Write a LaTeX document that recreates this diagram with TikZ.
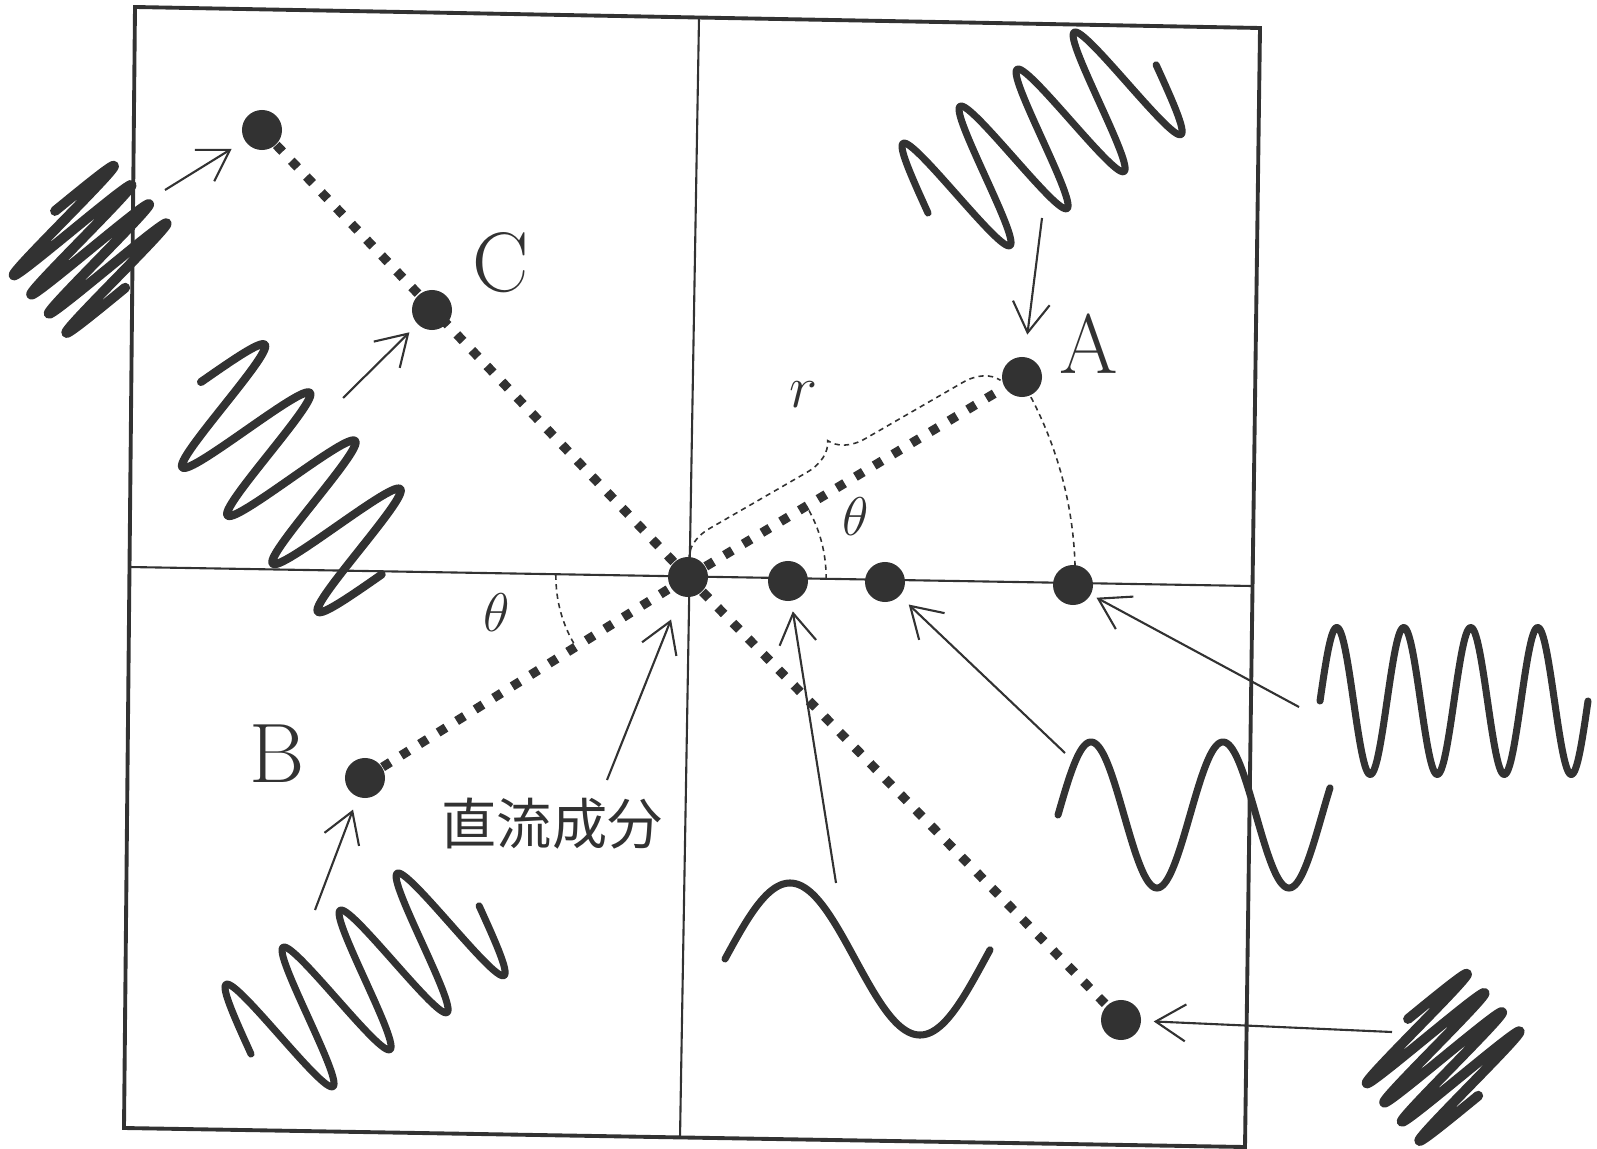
\documentclass[tikz,border=0pt]{standalone}
\usepackage{fix-cm}
\usepackage{fontspec}
\newfontfamily\cjkfont{Noto Sans CJK JP}
\usetikzlibrary{arrows.meta,decorations.pathreplacing,backgrounds}
\definecolor{ink}{RGB}{50,50,50}
\newcommand{\drawwave}[6][]{\draw[wave,#1,shift={(#2)},rotate=#3] plot[domain=0:#6,samples=240] (\x,{-#5*sin((360/#4)*\x)});}

\begin{document}
\begin{tikzpicture}[x=0.01cm,y=-0.01cm,>={Straight Barb[length=8.5pt,width=10.5pt]},frame/.style={draw=ink,line width=1.1pt},axis/.style={draw=ink,line width=0.6pt},dot/.style={circle,fill=ink,inner sep=0pt,minimum size=0.4cm},dotline/.style={draw=ink,line width=2.6pt,dash pattern=on 2.6pt off 3.6pt},guide/.style={draw=ink,line width=0.45pt,dash pattern=on 1.5pt off 1.2pt},feed/.style={->,draw=ink,line width=0.6pt,shorten >=0.12cm},wave/.style={draw=ink,line width=2pt,line cap=round,line join=round},letter/.style={font=\fontsize{24}{24}\selectfont,text=ink},sym/.style={font=\fontsize{16}{16}\selectfont,text=ink}]
\useasboundingbox (0,0) rectangle (1597,1149);
% sample points
\node[dot] (TL) at (262,130) {}; \node[dot] (C) at (432,310) {}; \node[dot] (A) at (1022,377) {};
\node[dot] (O) at (688,577) {}; \node[dot] (P1) at (788,581) {}; \node[dot] (P2) at (885,582) {}; \node[dot] (P3) at (1073,585) {};
\node[dot] (B) at (365,778) {}; \node[dot] (BR) at (1121,1020) {};
% labels
\node[letter] (labA) at (1089,344) {A}; \node[letter] (labB) at (277,754) {B}; \node[letter] (labC) at (501,263) {C};
\node[sym,font=\fontsize{17}{17}\selectfont] (labr) at (803,395) {$r$};
\node[sym,font=\fontsize{15.5}{15.5}\selectfont] (labt1) at (856,517) {$\theta$}; \node[sym,font=\fontsize{15.5}{15.5}\selectfont] (labt2) at (497,613) {$\theta$};
\node[text=ink] (labdc) at (552,824) {\fontsize{15.7}{15.7}\cjkfont 直流成分};
\coordinate (r0) at (689,560); \coordinate (r1) at (1001,380);
\begin{scope}[on background layer]
\draw[frame] (135,7) -- (1260,28) -- (1245,1147) -- (124,1128) -- cycle;
\draw[axis] (699,18) -- (680,1138); \draw[axis] (129,567) -- (1252,586);
\draw[dotline] (TL) -- (O) -- (BR); \draw[dotline] (B) -- (O) -- (A);
\draw[guide] (O.center) ++(-1:1.38cm) arc[start angle=-1,end angle=30.9,radius=1.38cm];
\draw[guide] (O.center) ++(-1.2:3.87cm) arc[start angle=-1.2,end angle=30.9,radius=3.87cm];
\draw[guide] (O.center) ++(179:1.32cm) arc[start angle=179,end angle=211.9,radius=1.32cm];
\draw[guide,decorate,decoration={brace,amplitude=0.34cm}] (r0) -- (r1);
\end{scope}
% arrows from the waves
\coordinate (fTL) at (165,190); \coordinate (fC) at (343,398); \coordinate (fA) at (1042,218);
\coordinate (fB) at (315,910); \coordinate (fO) at (607,780); \coordinate (f1) at (836,883);
\coordinate (f2) at (1065,753); \coordinate (f3) at (1299,707); \coordinate (fBR) at (1392,1032);
\draw[feed,shorten >=0.15cm] (fTL) -- (TL); \draw[feed,shorten >=0.11cm] (fC) -- (C); \draw[feed,shorten >=0.22cm] (fA) -- (A);
\draw[feed,shorten >=0.13cm] (fB) -- (B); \draw[feed,shorten >=0.25cm] (fO) -- (O); \draw[feed,shorten >=0.1cm] (f1) -- (P1);
\draw[feed] (f2) -- (P2); \draw[feed,shorten >=0.06cm] (f3) -- (P3); \draw[feed] (fBR) -- (BR);
% waves
\drawwave{725,959}{0}{260}{76}{265}
\drawwave{1058,815}{0}{132}{73}{272}
\drawwave{1320,701}{0}{67}{73.5}{268}
\drawwave{928,213}{33}{68}{72}{272}
\drawwave{251,1054}{33}{68}{72}{272}
\drawwave[line width=2.8pt]{55,211}{-47.5}{26}{74}{104}
\drawwave[line width=2.8pt]{1408,1019}{-47.5}{26}{74}{104}
\drawwave[line width=2.3pt]{201,382}{-46.8}{66}{72}{264}
\end{tikzpicture}
\end{document}
